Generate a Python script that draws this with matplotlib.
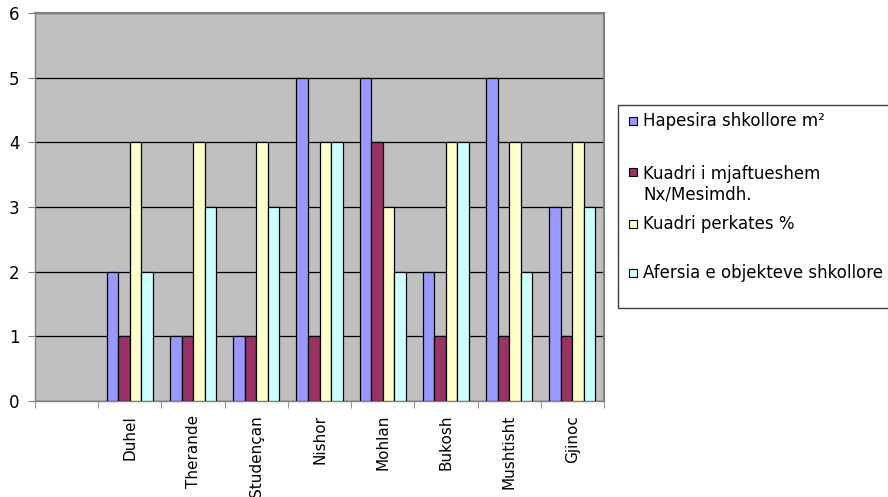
import matplotlib
matplotlib.use("Agg")
import matplotlib.pyplot as plt
import numpy as np
from matplotlib.patches import Rectangle

categories = ["Duhel", "Therande", "Studençan", "Nishor", "Mohlan", "Bukosh", "Mushtisht", "Gjinoc"]
series_names = ["Hapesira shkollore m²", "Kuadri i mjaftueshem\nNx/Mesimdh.", "Kuadri perkates %", "Afersia e objekteve shkollore"]
hapesira = [2, 1, 1, 5, 5, 2, 5, 3]
kuadri_mj = [1, 1, 1, 1, 4, 1, 1, 1]
kuadri_perk = [4, 4, 4, 4, 3, 4, 4, 4]
afersia = [2, 3, 3, 4, 2, 4, 2, 3]
colors = ["#9999FF", "#993366", "#FFFFCC", "#CCFFFF"]

plt.rcParams['font.family'] = ['DejaVu Sans']

fig = plt.figure(figsize=(8.88, 4.97), dpi=100)
ax = fig.add_axes([35/888, 1-401/497, (604-35)/888, (401-13)/497])
ax.set_facecolor("#C0C0C0")

# one empty category slot precedes the named ones
x = np.arange(len(categories)) + 1
w = 0.182
data = [hapesira, kuadri_mj, kuadri_perk, afersia]
for i, (vals, c) in enumerate(zip(data, colors)):
    ax.bar(x + (i - 1.5) * w, vals, width=w, color=c, edgecolor="black", linewidth=0.9, zorder=3)

ax.set_xlim(-0.5, len(categories) + 0.5)
ax.set_ylim(0, 6)
ax.set_yticks(range(0, 7))
ax.yaxis.grid(True, color="black", linewidth=0.9, zorder=1)
ax.set_axisbelow(True)
ax.tick_params(axis="y", length=5, color="#808080", labelsize=12, pad=6)

ax.set_xticks(x)
ax.set_xticklabels(categories, rotation=90, fontsize=11, va="top", ha="center")
ax.tick_params(axis="x", which="major", length=0, pad=10)
ax.set_xticks(np.arange(-0.5, len(categories) + 1), minor=True)
ax.tick_params(axis="x", which="minor", length=5, color="#808080")

for s in ["top", "right"]:
    ax.spines[s].set_color("#808080")
    ax.spines[s].set_linewidth(1.5)
for s in ["left", "bottom"]:
    ax.spines[s].set_color("#808080")
    ax.spines[s].set_linewidth(1.0)

# legend box
fig.patches.append(Rectangle((618/888, 1-308/497), 0.4, (308-105)/497, transform=fig.transFigure,
                             facecolor="white", edgecolor="#404040", linewidth=1.0, clip_on=False))
marker_y = [126, 177, 229, 278]
text_baseline = [126, 199, 229, 278]
for ym, yb, name, c in zip(marker_y, text_baseline, series_names, colors):
    fig.patches.append(Rectangle((629/888, 1-(ym-1)/497), 8/888, 8/497, transform=fig.transFigure,
                                 facecolor=c, edgecolor="black", linewidth=0.8))
    fig.text(643/888, 1-yb/497, name, fontsize=12, va="baseline", ha="left", linespacing=1.12)

fig.savefig("out.png", dpi=100)
